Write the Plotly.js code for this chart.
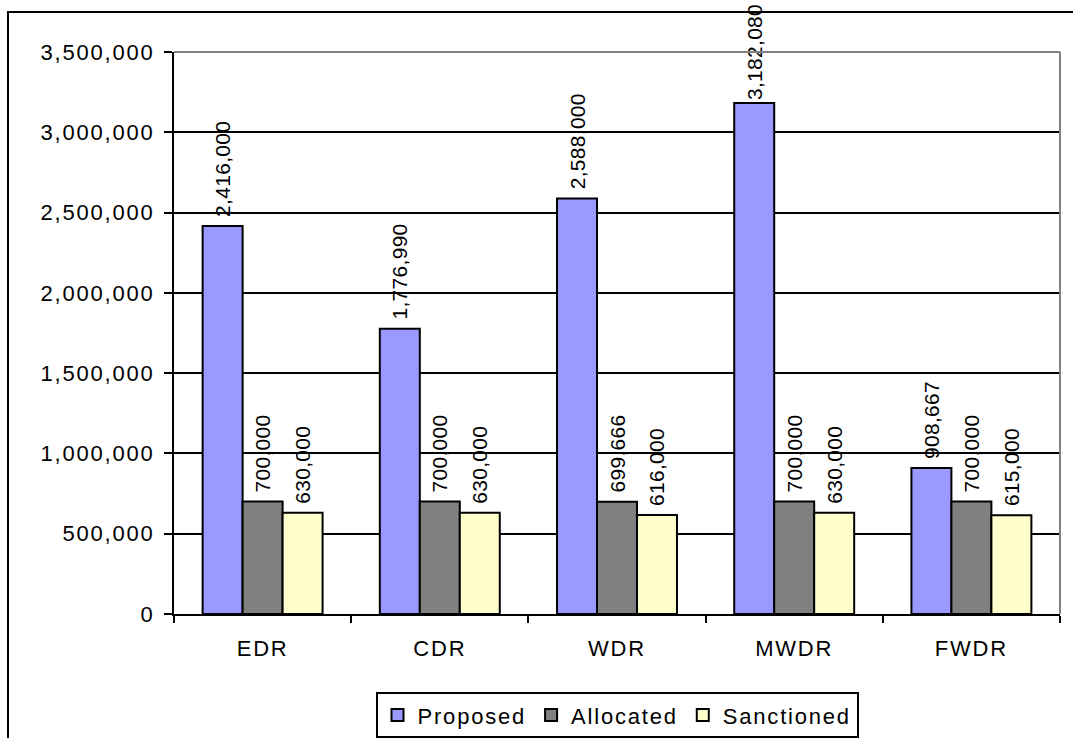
<!DOCTYPE html>
<html>
<head>
<meta charset="utf-8">
<script src="https://cdn.plot.ly/plotly-3.0.1.min.js"></script>
<style>
  html, body { margin: 0; padding: 0; background: #fff; }
  #chart { width: 1073px; height: 738px; }
  .ytick text, .xtick text, text.legendtext { letter-spacing: 1.8px; }
  text.bartext { letter-spacing: 0.3px; }
</style>
</head>
<body>
<div id="chart"></div>
<script>
const categories = ["EDR", "CDR", "WDR", "MWDR", "FWDR"];
const proposed   = [2416000, 1776990, 2588000, 3182080, 908667];
const allocated  = [700000, 700000, 699666, 700000, 700000];
const sanctioned = [630000, 630000, 616000, 630000, 615000];
const seriesNames = ["Proposed", "Allocated", "Sanctioned"];
const seriesColors = ["#9999FF", "#808080", "#FFFFCC"];

const FONT = "Liberation Sans, Arial, sans-serif";
const Y_MAX = 3500000;
// small leading gap between bar end and label, except where the label would run off the top
const fmt = v => (v < 0.85 * Y_MAX ? "\u00A0" : "") + v.toLocaleString("en-US");

const traces = [proposed, allocated, sanctioned].map((vals, i) => ({
  type: "bar",
  name: seriesNames[i],
  x: categories,
  y: vals,
  text: vals.map(fmt),
  textposition: "outside",
  textangle: -90,
  constraintext: "none",
  cliponaxis: false,
  textfont: { family: FONT, size: 21, color: "#000" },
  marker: { color: seriesColors[i], line: { color: "#000", width: 2 } },
  hoverinfo: "none"
}));

const layout = {
  width: 1073,
  height: 738,
  margin: { l: 174, r: 13, t: 52, b: 124, autoexpand: false },
  paper_bgcolor: "#fff",
  plot_bgcolor: "#fff",
  font: { family: FONT, size: 22, color: "#000" },
  barmode: "group",
  bargap: 0.323,
  bargroupgap: 0,
  showlegend: true,
  legend: {
    orientation: "h",
    x: 0.5, xanchor: "center",
    y: -0.139, yanchor: "top",
    bordercolor: "#000",
    borderwidth: 2,
    bgcolor: "#fff",
    font: { family: FONT, size: 22, color: "#000" },
    traceorder: "normal"
  },
  xaxis: {
    type: "category",
    showline: true, linecolor: "#000", linewidth: 2,
    ticks: "outside", tickson: "boundaries", ticklen: 7, tickwidth: 2, tickcolor: "#000",
    showgrid: false,
    zeroline: false,
    ticklabelstandoff: 14,
    tickfont: { family: FONT, size: 22, color: "#000" }
  },
  yaxis: {
    range: [0, Y_MAX],
    dtick: 500000,
    tick0: 0,
    tickformat: ",",
    showline: true, linecolor: "#000", linewidth: 2,
    ticks: "outside", ticklen: 8, tickwidth: 2, tickcolor: "#000",
    showgrid: true, gridcolor: "#000", gridwidth: 2,
    zeroline: false,
    ticklabelstandoff: 5,
    tickfont: { family: FONT, size: 22, color: "#000" }
  },
  shapes: [
    { type: "rect", xref: "paper", yref: "paper",
      x0: -0.18736, x1: 1.05, y0: -0.3, y1: 1.0712,
      line: { color: "#000", width: 2 }, fillcolor: "rgba(0,0,0,0)", layer: "below" },
    { type: "line", xref: "paper", yref: "paper", x0: 0, x1: 1, y0: 1, y1: 1,
      line: { color: "#808080", width: 2 }, layer: "above" },
    { type: "line", xref: "paper", yref: "paper", x0: 1, x1: 1, y0: 0, y1: 1,
      line: { color: "#808080", width: 2 }, layer: "above" }
  ]
};

Plotly.newPlot("chart", traces, layout, { displayModeBar: false, staticPlot: true });
</script>
</body>
</html>
